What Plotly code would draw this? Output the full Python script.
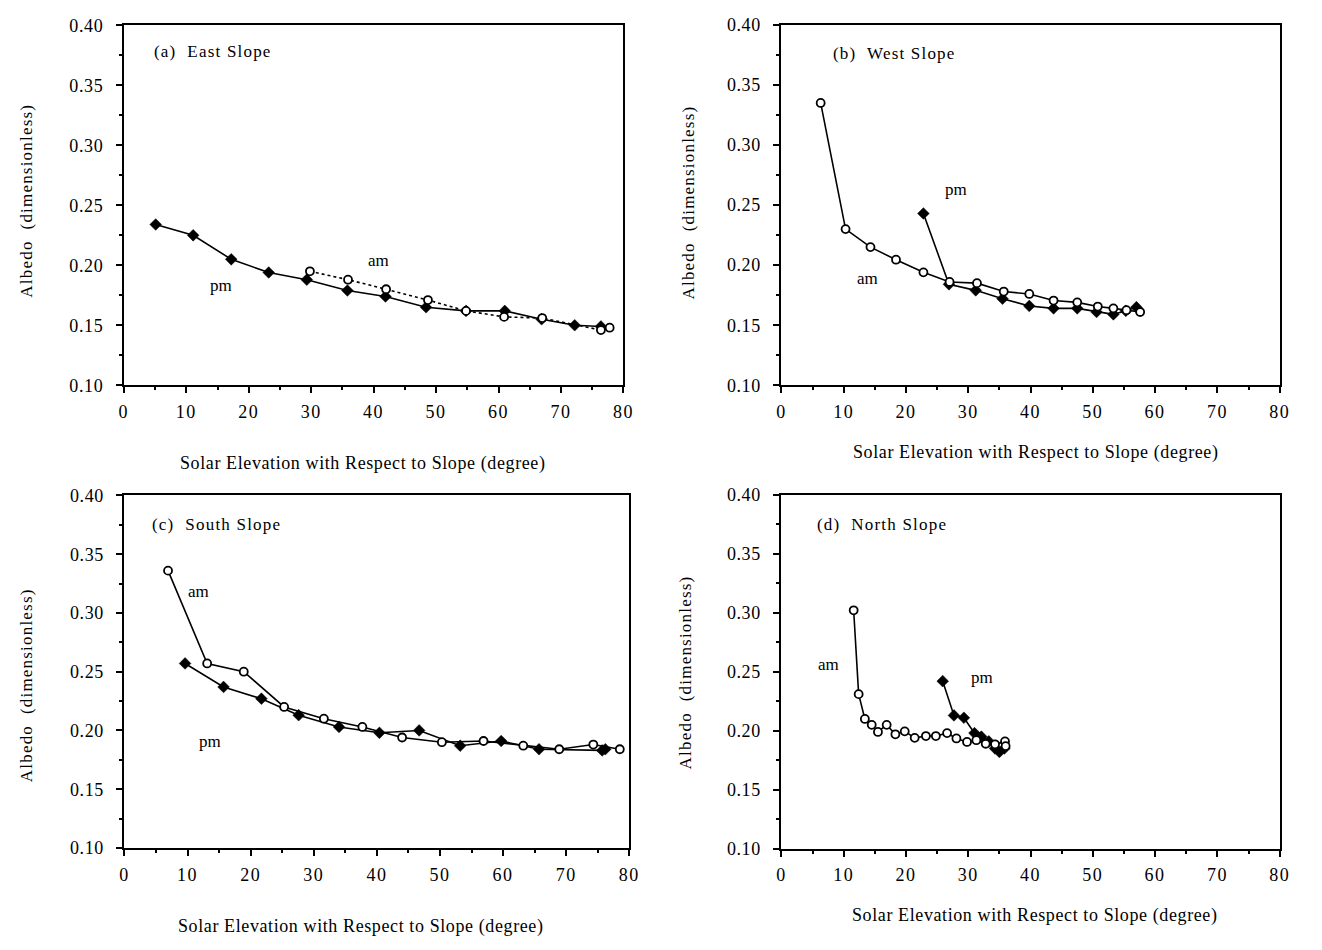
import plotly.graph_objects as go

# ---- (a) East Slope ----
east_am_x = [29.8, 35.9, 42.0, 48.7, 54.8, 60.9, 67.0, 76.4, 77.8]
east_am_y = [0.195, 0.188, 0.180, 0.171, 0.162, 0.157, 0.156, 0.146, 0.148]
east_pm_x = [5.1, 11.1, 17.2, 23.2, 29.3, 35.8, 41.9, 48.4, 54.8, 61.0, 66.9, 72.2, 76.4]
east_pm_y = [0.234, 0.225, 0.205, 0.194, 0.188, 0.179, 0.174, 0.165, 0.162, 0.162, 0.155, 0.150, 0.149]

# ---- (b) West Slope ----
west_am_x = [6.3, 10.3, 14.3, 18.4, 22.8, 27.0, 31.4, 35.7, 39.8, 43.7, 47.5, 50.8, 53.3, 55.4, 57.6]
west_am_y = [0.335, 0.230, 0.215, 0.2045, 0.194, 0.186, 0.185, 0.178, 0.176, 0.1705, 0.169, 0.1655, 0.164, 0.1625, 0.161]
west_pm_x = [22.8, 26.9, 31.2, 35.5, 39.8, 43.7, 47.5, 50.6, 53.3, 55.3, 57.0]
west_pm_y = [0.243, 0.184, 0.179, 0.172, 0.166, 0.164, 0.164, 0.161, 0.159, 0.162, 0.165]

# ---- (c) South Slope ----
south_am_x = [6.9, 13.1, 18.9, 25.3, 31.6, 37.7, 44.0, 50.3, 56.9, 63.2, 68.9, 74.3, 78.5]
south_am_y = [0.336, 0.257, 0.250, 0.220, 0.210, 0.203, 0.194, 0.190, 0.191, 0.187, 0.184, 0.188, 0.184]
south_pm_x = [9.6, 15.7, 21.7, 27.6, 34.0, 40.4, 46.7, 53.2, 59.7, 65.7, 75.7, 76.2]
south_pm_y = [0.257, 0.237, 0.227, 0.213, 0.203, 0.198, 0.200, 0.187, 0.191, 0.184, 0.183, 0.184]

# ---- (d) North Slope ----
north_am_x = [11.6, 12.4, 13.4, 14.5, 15.5, 16.9, 18.3, 19.8, 21.4, 23.2, 24.8, 26.6, 28.1,
              29.8, 31.3, 32.8, 34.3, 35.9, 36.0]
north_am_y = [0.302, 0.231, 0.210, 0.205, 0.199, 0.205, 0.197, 0.1995, 0.194, 0.1955, 0.1955,
              0.198, 0.1935, 0.1905, 0.192, 0.189, 0.1885, 0.191, 0.187]
north_pm_x = [25.9, 27.7, 29.3, 31.0, 32.1, 33.3, 34.3, 35.0, 35.8]
north_pm_y = [0.242, 0.213, 0.211, 0.198, 0.195, 0.191, 0.185, 0.182, 0.185]

panel_titles = ["(a)  East Slope", "(b)  West Slope", "(c)  South Slope", "(d)  North Slope"]
x_title = "Solar Elevation with Respect to Slope (degree)"
y_title = "Albedo  (dimensionless)"
x_ticks = [0, 10, 20, 30, 40, 50, 60, 70, 80]
y_ticks = [0.10, 0.15, 0.20, 0.25, 0.30, 0.35, 0.40]

FONT = "Liberation Serif"
INK = "black"
W, H = 1322, 950


def spaced(text, px):
    """Wrap text in a span with extra letter spacing (typewriter-like figure lettering)."""
    return f'<span style="letter-spacing:{px}px">{text}</span>'


# panel layout: (xaxis, yaxis, x-domain, y-domain)
panels = [
    ("x", "y", [0.0910, 0.4735], [0.5965, 0.9835]),
    ("x2", "y2", [0.5945, 0.9760], [0.5965, 0.9840]),
    ("x3", "y3", [0.0915, 0.4780], [0.0990, 0.4780]),
    ("x4", "y4", [0.5945, 0.9760], [0.0980, 0.4790]),
]

series = [
    (east_am_x, east_am_y, east_pm_x, east_pm_y, "dot"),
    (west_am_x, west_am_y, west_pm_x, west_pm_y, "solid"),
    (south_am_x, south_am_y, south_pm_x, south_pm_y, "solid"),
    (north_am_x, north_am_y, north_pm_x, north_pm_y, "solid"),
]

fig = go.Figure()

for (xa, ya, _, _), (amx, amy, pmx, pmy, am_dash) in zip(panels, series):
    fig.add_trace(go.Scatter(
        x=pmx, y=pmy, mode="lines+markers", xaxis=xa, yaxis=ya, showlegend=False,
        line=dict(color=INK, width=1.6),
        marker=dict(symbol="diamond", size=9, color=INK, line=dict(color=INK, width=0.5)),
    ))
    fig.add_trace(go.Scatter(
        x=amx, y=amy, mode="lines+markers", xaxis=xa, yaxis=ya, showlegend=False,
        line=dict(color=INK, width=1.6, dash=am_dash),
        marker=dict(symbol="circle", size=8, color="white", line=dict(color=INK, width=1.8)),
    ))

axis_common = dict(
    showgrid=False, zeroline=False, showline=True, linecolor=INK, linewidth=2,
    mirror=True, ticks="outside", tickcolor=INK, tickwidth=1.5, ticklen=6,
    tickfont=dict(family=FONT, size=18, color=INK),
)

layout_axes = {}
for i, (xa, ya, xd, yd) in enumerate(panels):
    xkey = "xaxis" if i == 0 else f"xaxis{i + 1}"
    ykey = "yaxis" if i == 0 else f"yaxis{i + 1}"
    layout_axes[xkey] = dict(
        axis_common, domain=xd, anchor=ya, range=[0, 80],
        tickvals=x_ticks, ticktext=[spaced(str(v), 1.5) for v in x_ticks],
        ticklabelstandoff=3,
        minor=dict(dtick=5, ticks="outside", ticklen=3, tickcolor=INK, tickwidth=1.5),
    )
    layout_axes[ykey] = dict(
        axis_common, domain=yd, anchor=xa, range=[0.10, 0.40],
        tickvals=y_ticks, ticktext=[spaced(f"{v:.2f}", 0.6) for v in y_ticks],
        ticklabelstandoff=9,
        minor=dict(dtick=0.025, ticks="outside", ticklen=3, tickcolor=INK, tickwidth=1.5),
    )

ann_font = dict(family=FONT, size=17, color=INK)
annotations = []

# panel headings and am/pm labels in data coordinates
labels = [
    ("x", "y", [(4.5, 0.378, panel_titles[0]), (40.8, 0.204, "am"), (15.5, 0.183, "pm")]),
    ("x2", "y2", [(7.9, 0.376, panel_titles[1]), (13.8, 0.189, "am"), (28.0, 0.263, "pm")]),
    ("x3", "y3", [(4.0, 0.375, panel_titles[2]), (11.8, 0.318, "am"), (13.6, 0.191, "pm")]),
    ("x4", "y4", [(5.4, 0.375, panel_titles[3]), (7.6, 0.256, "am"), (32.2, 0.245, "pm")]),
]
for xa, ya, items in labels:
    for x, y, t in items:
        heading = t.startswith("(")
        annotations.append(dict(
            x=x, y=y, xref=xa, yref=ya, text=spaced(t, 1.2) if heading else t, showarrow=False,
            xanchor="left" if heading else "center", yanchor="middle", font=ann_font,
        ))

# axis titles in paper coordinates (pixel offsets from each panel's centre)
title_font = dict(family=FONT, size=18, color=INK)
for (_, _, xd, _), dx, ty in zip(panels, [-11, 6, -16, 5], [463, 452, 936, 925]):
    annotations.append(dict(
        x=(xd[0] + xd[1]) / 2 + dx / W, y=1 - ty / H, xref="paper", yref="paper",
        text=spaced(x_title, 0.6), showarrow=False, xanchor="center", yanchor="middle",
        font=title_font,
    ))
for px, py in [(22, 195), (692, 197), (22, 690), (689, 677)]:
    annotations.append(dict(
        x=px / W, y=1 - py / H, xref="paper", yref="paper", text=spaced(y_title, 1.2),
        showarrow=False, xanchor="center", yanchor="middle", textangle=-90,
        font=dict(family=FONT, size=17, color=INK),
    ))

fig.update_layout(
    width=W, height=H,
    margin=dict(l=0, r=0, t=0, b=0),
    paper_bgcolor="white", plot_bgcolor="white",
    annotations=annotations,
    **layout_axes,
)

fig.write_html("out.html")
